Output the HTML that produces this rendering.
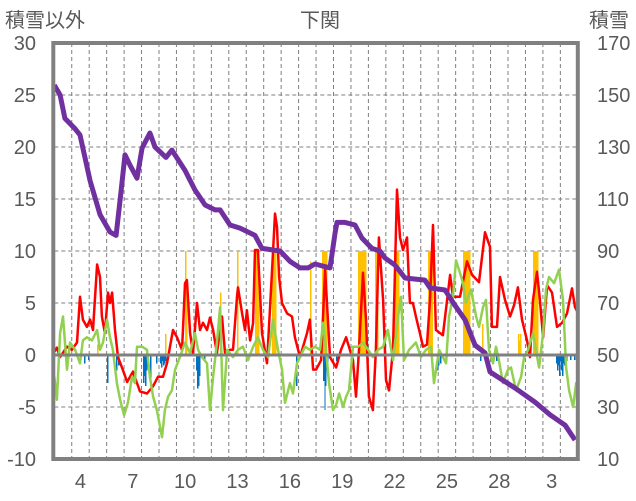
<!DOCTYPE html>
<html><head><meta charset="utf-8">
<style>
html,body{margin:0;padding:0;background:#fff;}
svg{display:block;}
text{font-family:"Liberation Sans","Noto Sans CJK JP",sans-serif;fill:#595959;}
</style></head>
<body>
<svg id="chart" width="636" height="501" viewBox="0 0 636 501" xmlns="http://www.w3.org/2000/svg">
  <text x="5" y="27" font-size="20">積雪以外</text>
  <text x="320" y="27" font-size="20" text-anchor="middle">下関</text>
  <text x="589" y="27" font-size="20">積雪</text>
  <g id="grid"></g>
  <g id="bars" shape-rendering="crispEdges"></g>
  <g id="lines"></g>
  <g id="axes"></g>
</svg>
<script>
// ---- data ----
const xTickDays = [1,4,7,10,13,16,19,22,25,28];
const xTickLabels = ["4","7","10","13","16","19","22","25","28","3"];
const leftTicks = [-10,-5,0,5,10,15,20,25,30];
const rightTicks = [10,30,50,70,90,110,130,150,170];
const redT = [0,0.15,0.33,0.73,1.01,1.3,1.47,1.64,1.87,2.05,2.22,2.45,2.62,2.73,2.9,3.08,3.19,3.31,3.48,3.65,3.94,4.17,4.51,4.74,4.91,5.31,5.66,5.94,6.23,6.46,6.63,6.8,7.03,7.32,7.38,7.49,7.6,7.78,7.95,8.18,8.35,8.52,8.75,8.92,9.1,9.32,9.5,9.61,9.78,10.07,10.24,10.47,10.53,10.76,10.93,11.04,11.22,11.39,11.5,11.67,11.9,12.19,12.48,12.65,12.76,12.88,13.05,13.34,13.62,13.79,14.08,14.48,14.65,14.83,15.0,15.29,15.52,15.8,16.15,16.43,16.72,17.12,17.29,17.46,17.69,17.86,18.03,18.26,18.43,18.6,18.84,19.01,19.18,19.41,19.64,19.81,19.98,20.21,20.38,20.55,20.72,20.95,21.13,21.36,21.53,21.7,21.87,22.27,22.68,22.85,23.25,23.65,23.94,24.34,24.68,24.97,25.08,25.37,25.54,25.83,26.12,26.35,26.57,26.8,27.09,27.26,27.43,27.66,27.83,28.01,28.24,28.52,28.81,29.1,29.38,29.67,29.84,30];
const redV = [0.3,0.7,-0.2,0.8,0.5,1.2,5.6,3.4,2.7,3.4,2.4,8.7,7.5,3.7,2.1,6.0,5.0,6.0,2.4,-0.2,-1.5,-2.6,-1.6,-2.7,-3.5,-3.7,-3.0,-2.1,-2.1,-0.8,0.8,2.4,1.7,0.5,2.7,6.9,7.2,2.1,0.2,5.0,2.4,3.1,2.4,3.6,2.4,0.2,2.4,3.7,0.2,0.5,0.5,5.6,6.5,4.0,2.4,4.3,1.4,3.1,10.1,10.1,2.1,-0.8,8.2,13.6,12.3,7.5,5.0,4.0,3.7,1.7,-0.2,2.1,3.4,-1.4,-1.4,-0.5,8.2,-0.2,-1.2,0.5,1.7,-0.5,-4.0,0.5,7.9,3.4,-4.0,-5.3,0.5,11.3,5.3,-2.4,-3.4,0.5,15.9,11.3,10.1,11.3,5.0,5.0,3.7,2.1,0.8,1.0,5.3,12.5,2.4,1.9,7.7,5.6,5.6,9.0,7.7,7.0,11.8,10.4,2.7,2.7,7.5,5.3,3.7,4.8,6.5,3.4,1.4,-0.2,5.3,8.0,5.3,1.7,6.7,6.0,2.7,3.1,4.0,6.4,4.6,4.1];
const greenT = [0,0.15,0.33,0.5,0.73,0.9,1.19,1.47,1.64,1.87,2.16,2.45,2.62,2.79,3.02,3.19,3.36,3.59,3.77,4.0,4.22,4.45,4.62,4.74,5.03,5.31,5.48,5.66,5.88,6.17,6.34,6.52,6.74,6.92,7.2,7.49,7.78,8.06,8.24,8.46,8.75,8.92,9.1,9.32,9.5,9.67,9.9,10.24,10.53,10.81,11.1,11.39,11.67,11.96,12.25,12.53,12.82,13.05,13.22,13.51,13.68,13.91,14.08,14.37,14.65,14.94,15.23,15.4,15.57,15.74,15.97,16.15,16.32,16.55,16.72,16.89,17.0,17.12,17.41,17.69,17.98,18.26,18.55,18.84,19.12,19.41,19.7,19.87,20.04,20.33,20.72,21.01,21.3,21.59,21.76,22.05,22.45,22.62,22.85,23.02,23.19,23.42,23.59,23.88,24.17,24.34,24.57,24.74,24.91,25.14,25.31,25.48,25.71,26.0,26.17,26.46,26.75,26.92,27.15,27.43,27.6,27.78,28.01,28.18,28.35,28.64,28.92,29.15,29.33,29.5,29.73,29.9,30];
const greenV = [-2.1,-4.3,2.1,3.7,-1.4,1.2,0.5,-0.8,1.4,1.7,1.4,2.4,0.5,1.2,3.4,1.7,0.5,-2.7,-4.3,-5.8,-4.6,-2.1,-2.7,0.8,0.8,0.5,-2.1,-4.0,-5.3,-7.9,-5.3,-4.0,-3.4,-1.4,-0.2,1.2,0.2,2.1,0.5,-0.2,-0.8,-5.3,-2.1,1.2,4.6,-5.3,0.5,-0.2,0.5,0.8,-0.5,0.8,1.7,0.5,-0.2,3.4,0.5,-1.4,-4.6,-2.7,-3.7,-0.8,-0.2,0.8,0.5,0.8,0.5,3.1,0.5,-2.7,-5.3,-4.8,-3.7,-5.0,-4.0,-3.4,-1.4,0.8,0.8,1.2,0.5,-0.2,0.5,0.8,2.4,-0.5,3.7,5.6,-0.5,0.5,1.2,-0.2,0.5,0.8,-2.7,0.5,-0.8,3.7,5.6,9.1,8.2,6.9,5.0,6.3,3.7,2.7,4.6,5.3,0.5,-0.8,0.8,-0.5,-2.7,-1.4,-1.2,-3.4,-2.1,-0.2,0.5,2.1,0.5,-1.2,2.1,6.3,7.5,6.9,8.2,5.3,-1.2,-3.4,-5.0,-2.7,-3.7];
const snowT = [0,0.33,0.61,1.19,1.47,2.05,2.62,3.19,3.54,3.77,4.05,4.34,4.74,5.03,5.48,5.77,6.4,6.74,7.49,8.06,8.64,9.21,9.5,10.07,10.64,11.5,11.9,12.94,13.51,14.08,14.54,14.94,15.8,16.09,16.2,16.66,17.23,17.63,18.2,18.66,18.95,19.52,20.1,21.24,21.53,22.39,22.97,23.54,24.11,24.68,24.97,25.54,26.4,26.97,27.54,28.41,29.27,29.84];
const snowV = [153.8,150,141,137,134.6,117,104,97.3,96,109.6,127,123,118,129.6,135.4,130,126,128.8,121,113.5,107.7,105.8,105.8,100,98.8,96,91,90,86,83.5,83.5,85,83.5,97,101,101,100,95,91,90,87.3,84.6,79.6,78.8,75.8,75,69,63.5,53.8,50.8,43.5,41,37.3,34.6,31.9,27,23,17.3];
const sunT = [2.45,6.34,7.49,7.55,9.5,10.47,11.5,11.56,11.62,11.67,12.48,12.54,12.6,12.65,14.65,15.35,15.41,15.47,15.52,15.58,17.41,17.47,17.52,17.58,17.64,17.7,17.75,17.81,18.38,18.43,18.49,19.47,19.52,19.58,19.64,19.7,21.42,21.48,21.53,21.59,21.64,23.42,23.48,23.54,23.6,23.65,23.71,23.77,24.51,26.57,26.63,26.69,27.43,27.49,27.55,27.61,27.66];
const sunV = [1.0,2.0,10,6,6,10,10,10,10,10,10,10,10,10,9,10,10,10,10,10,10,10,10,10,10,10,10,10,10,10,10,10,10,10,10,10,10,10,10,10,10,10,10,10,10,10,10,10,3,2,1.4,2,10,10,10,10,10];
const fallT = [1.7,1.93,3.02,3.54,3.65,5.08,5.14,5.2,5.26,5.48,5.83,6.06,6.12,6.18,6.23,6.29,6.34,8.12,8.18,8.24,8.29,8.58,13.85,15.41,15.47,15.52,15.64,16.15,21.93,21.99,22.1,24.4,25.31,28.76,28.82,28.88,28.93,28.99,29.05,29.1,29.16,29.22,29.33,29.56,29.79];
const fallV = [-0.8,-0.5,-2.7,-1.5,-1.0,-2.7,-2.0,-3.0,-1.5,-2.5,-0.8,-0.8,-1.2,-0.6,-1.0,-0.8,-0.6,-1.5,-3.2,-3.0,-2.0,-0.5,-3.0,-2.5,-5.3,-3.0,-2.0,-0.6,-1.5,-1.0,-0.8,-0.6,-0.6,-0.8,-1.5,-1.0,-2.0,-0.6,-1.5,-2.0,-0.8,-1.0,-0.6,-0.5,-0.5];

// ---- scales ----
const X0 = 54.3, DAYW = 17.45, NDAYS = 30;
const xT = t => X0 + t * DAYW;
const yL = v => 355 - v * 10.4;
const yR = v => 355 - (v - 50) * 2.6;
const NS = "http://www.w3.org/2000/svg";
function mk(tag, parent, attrs) {
  const e = document.createElementNS(NS, tag);
  for (const k in attrs) e.setAttribute(k, attrs[k]);
  parent.appendChild(e);
  return e;
}
const gridG = document.getElementById('grid');
const barsG = document.getElementById('bars');
const linesG = document.getElementById('lines');
const axesG = document.getElementById('axes');
const plotTop = yL(30), plotBot = yL(-10), plotRight = xT(NDAYS);

leftTicks.forEach(v => {
  if (v === 30 || v === -10 || v === 0) return;
  const l = mk('line', gridG, {x1: X0, x2: plotRight, y1: yL(v), y2: yL(v), stroke: '#7f7f7f', 'stroke-width': 1, 'stroke-dasharray': '4 3'});
  
  
});
for (let d = 1; d < NDAYS; d++) {
  const l = mk('line', gridG, {x1: xT(d), x2: xT(d), y1: plotTop, y2: plotBot, stroke: '#7f7f7f', 'stroke-width': 1, 'stroke-dasharray': '4 3'});
  
  
}
const hw = DAYW / 24;
sunT.forEach((t, i) => {
  const r = mk('rect', barsG, {x: xT(t), y: yL(sunV[i]), width: hw + 0.6, height: yL(0) - yL(sunV[i]), fill: '#ffc000'});
  
  
});
fallT.forEach((t, i) => {
  const r = mk('rect', barsG, {x: xT(t), y: yL(0), width: hw + 0.6, height: yL(fallV[i]) - yL(0), fill: '#0070c0'});
  
  
});
const z = mk('line', axesG, {x1: X0, x2: plotRight, y1: yL(0), y2: yL(0), stroke: '#808080', 'stroke-width': 3});



function poly(ts, vs, ys, color, w, name) {
  const pts = ts.map((t, i) => xT(t).toFixed(1) + ',' + ys(vs[i]).toFixed(1)).join(' ');
  const p = mk('polyline', linesG, {points: pts, fill: 'none', stroke: color, 'stroke-width': w, 'stroke-linejoin': 'round'});
  
  
}
poly(redT, redV, yL, '#ff0000', 2.5, 'temperature-line');
poly(greenT, greenV, yL, '#92d050', 2.5, 'green-series-line');
poly(snowT, snowV, yR, '#7030a0', 5, 'snow-depth-line');

const f = mk('rect', axesG, {x: X0 - 1, y: plotTop, width: plotRight - X0 + 1, height: plotBot - plotTop, fill: 'none', stroke: '#808080', 'stroke-width': 4});



leftTicks.forEach(v => {
  const t = mk('text', axesG, {x: 36, y: yL(v) + 7, 'font-size': 20, 'text-anchor': 'end'});
  t.textContent = String(v);
  
  
});
rightTicks.forEach(v => {
  const t = mk('text', axesG, {x: 597, y: yR(v) + 7, 'font-size': 20});
  t.textContent = String(v);
  
  
});
xTickDays.forEach((d, i) => {
  const t = mk('text', axesG, {x: xT(d + 0.5), y: 488, 'font-size': 20, 'text-anchor': 'middle'});
  t.textContent = xTickLabels[i];
  
  
});
</script>
</body></html>
